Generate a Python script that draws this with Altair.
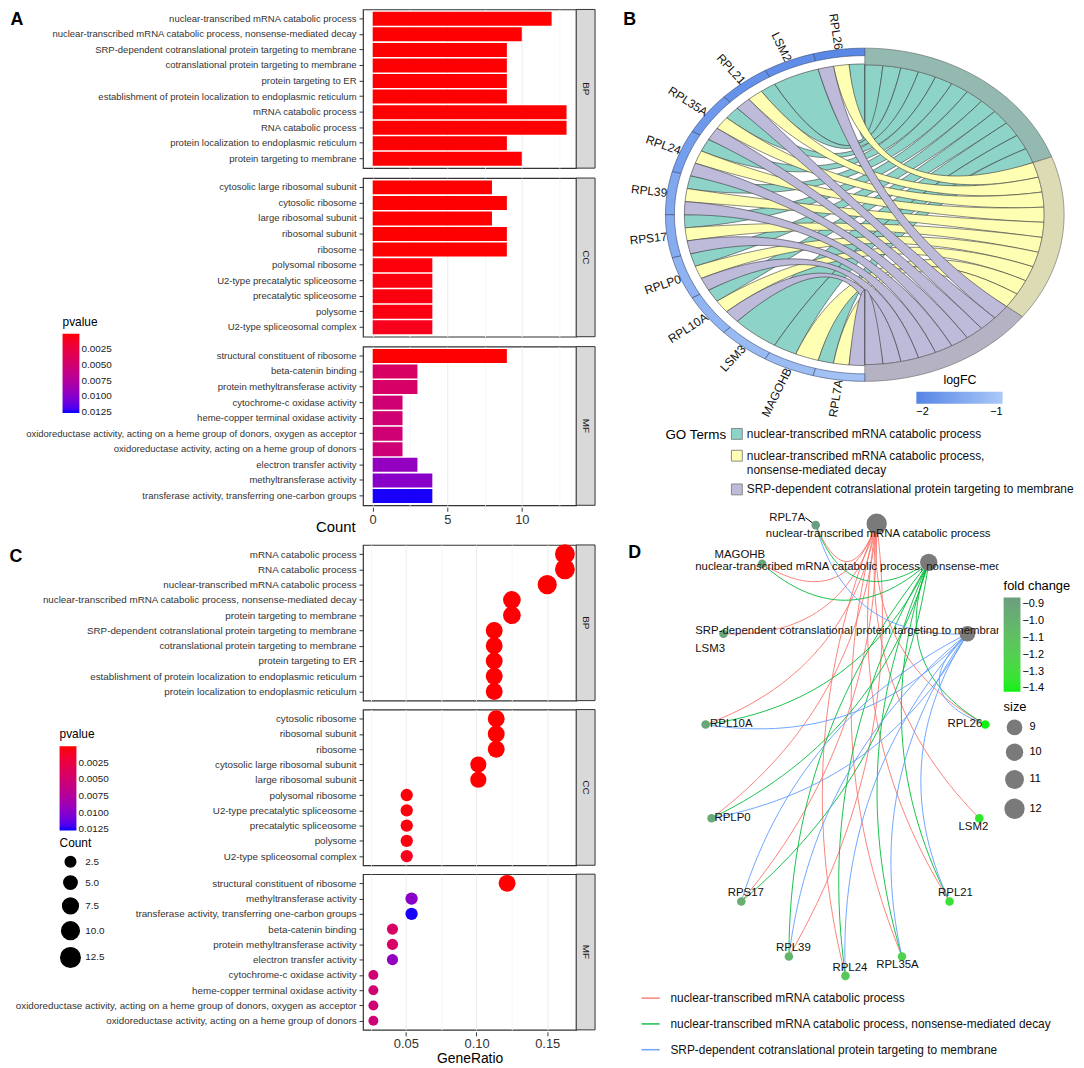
import math
import altair as alt
import pandas as pd

SANS = "Liberation Sans, Arial"

# ------------------------------------------------------------------ data
bp_terms = [
    "nuclear-transcribed mRNA catabolic process",
    "nuclear-transcribed mRNA catabolic process, nonsense-mediated decay",
    "SRP-dependent cotranslational protein targeting to membrane",
    "cotranslational protein targeting to membrane",
    "protein targeting to ER",
    "establishment of protein localization to endoplasmic reticulum",
    "mRNA catabolic process",
    "RNA catabolic process",
    "protein localization to endoplasmic reticulum",
    "protein targeting to membrane",
]
bp_counts = [12, 10, 9, 9, 9, 9, 13, 13, 9, 10]
bp_pvalues = [2e-5, 4e-5, 3e-5, 4e-5, 5e-5, 5e-5, 1e-5, 1e-5, 6e-5, 8e-5]

cc_terms = [
    "cytosolic large ribosomal subunit",
    "cytosolic ribosome",
    "large ribosomal subunit",
    "ribosomal subunit",
    "ribosome",
    "polysomal ribosome",
    "U2-type precatalytic spliceosome",
    "precatalytic spliceosome",
    "polysome",
    "U2-type spliceosomal complex",
]
cc_counts = [8, 9, 8, 9, 9, 4, 4, 4, 4, 4]
cc_pvalues = [1e-5, 1e-5, 2e-5, 2e-5, 3e-5, 2e-4, 3e-4, 3e-4, 4e-4, 7e-4]

mf_terms = [
    "structural constituent of ribosome",
    "beta-catenin binding",
    "protein methyltransferase activity",
    "cytochrome-c oxidase activity",
    "heme-copper terminal oxidase activity",
    "oxidoreductase activity, acting on a heme group of donors, oxygen as acceptor",
    "oxidoreductase activity, acting on a heme group of donors",
    "electron transfer activity",
    "methyltransferase activity",
    "transferase activity, transferring one-carbon groups",
]
mf_counts = [9, 3, 3, 2, 2, 2, 2, 3, 4, 4]
mf_pvalues = [1e-6, 0.0043, 0.0045, 0.0051, 0.0051, 0.0052, 0.0053, 0.0094, 0.0099, 0.0126]

bg_sizes = {"BP": 80, "CC": 79, "MF": 74}

dot_bp_order = [
    "mRNA catabolic process",
    "RNA catabolic process",
    "nuclear-transcribed mRNA catabolic process",
    "nuclear-transcribed mRNA catabolic process, nonsense-mediated decay",
    "protein targeting to membrane",
    "SRP-dependent cotranslational protein targeting to membrane",
    "cotranslational protein targeting to membrane",
    "protein targeting to ER",
    "establishment of protein localization to endoplasmic reticulum",
    "protein localization to endoplasmic reticulum",
]
dot_cc_order = [
    "cytosolic ribosome",
    "ribosomal subunit",
    "ribosome",
    "cytosolic large ribosomal subunit",
    "large ribosomal subunit",
    "polysomal ribosome",
    "U2-type precatalytic spliceosome",
    "precatalytic spliceosome",
    "polysome",
    "U2-type spliceosomal complex",
]
dot_mf_order = [
    "structural constituent of ribosome",
    "methyltransferase activity",
    "transferase activity, transferring one-carbon groups",
    "beta-catenin binding",
    "protein methyltransferase activity",
    "electron transfer activity",
    "cytochrome-c oxidase activity",
    "heme-copper terminal oxidase activity",
    "oxidoreductase activity, acting on a heme group of donors, oxygen as acceptor",
    "oxidoreductase activity, acting on a heme group of donors",
]

go_terms = [
    "nuclear-transcribed mRNA catabolic process",
    "nuclear-transcribed mRNA catabolic process, nonsense-mediated decay",
    "SRP-dependent cotranslational protein targeting to membrane",
]
term_genes = {
    go_terms[0]: ["RPL26", "LSM2", "RPL21", "RPL35A", "RPL24", "RPL39", "RPS17",
                  "RPLP0", "RPL10A", "LSM3", "MAGOHB", "RPL7A"],
    go_terms[1]: ["RPL26", "RPL21", "RPL35A", "RPL24", "RPL39", "RPS17",
                  "RPLP0", "RPL10A", "MAGOHB", "RPL7A"],
    go_terms[2]: ["RPL26", "RPL21", "RPL35A", "RPL24", "RPL39", "RPS17",
                  "RPLP0", "RPL10A", "RPL7A"],
}

chord_genes = ["RPL26", "LSM2", "RPL21", "RPL35A", "RPL24", "RPL39", "RPS17",
               "RPLP0", "RPL10A", "LSM3", "MAGOHB", "RPL7A"]
chord_logfc = [-1.95, -1.88, -1.82, -1.72, -1.62, -1.48, -1.42, -1.33, -1.3, -1.2, -1.17, -1.1]
ribbon_colors = ["#8dd3c7", "#ffffb3", "#bebada"]
ring_colors = ["#93b9b0", "#dcdbb4", "#b4b2c3"]

net_genes = ["RPL7A", "MAGOHB", "LSM3", "RPL10A", "RPL26", "RPLP0", "LSM2",
             "RPS17", "RPL21", "RPL39", "RPL24", "RPL35A"]
net_fc = [-0.86, -0.9, -0.9, -0.92, -1.42, -0.95, -1.36, -0.97, -1.32, -1.02, -1.15, -1.22]
net_gx = [-0.21, -0.57, -0.83, -0.95, 0.93, -0.91, 0.89, -0.71, 0.69, -0.39, -0.01, 0.37]
net_gy = [1.48, 1.22, 0.75, 0.14, 0.14, -0.49, -0.49, -1.05, -1.05, -1.42, -1.55, -1.42]
net_lx = [-0.28, -0.72, -1.02, -0.92, 0.91, -0.89, 0.85, -0.68, 0.73, -0.36, 0.02, 0.34]
net_ly = [1.53, 1.28, 0.65, 0.14, 0.14, -0.49, -0.55, -0.99, -0.99, -1.36, -1.5, -1.48]
net_lalign = ["right", "center", "left", "left", "right", "left", "center",
              "center", "center", "center", "center", "center"]
term_nx = [0.2, 0.55, 0.81]
term_ny = [1.49, 1.23, 0.75]
term_size = [12, 10, 9]
term_lx = [0.21, -1.02, -1.02]
term_ly = [1.42, 1.2, 0.77]
term_lalign = ["center", "left", "left"]
edge_colors = ["#f8766d", "#00ba38", "#619cff"]

# p-values are encoded negated so that the small values sit at the top of the bar
P_SCALE = alt.Scale(domain=[-0.0127, 0], range=["#0000ff", "#ff0000"], interpolate="lab")
P_VALUES = [-0.0125, -0.01, -0.0075, -0.005, -0.0025]


def pvalue_legend(lx, ly, glen):
    return alt.Legend(title="pvalue", orient="none", legendX=lx, legendY=ly,
                      values=P_VALUES, labelExpr="format(-datum.value, '.4f')",
                      gradientLength=glen, gradientThickness=17, titleFontSize=12,
                      labelFontSize=10, titleFont=SANS, labelFont=SANS,
                      labelColor="#222222", titleFontWeight="normal", titlePadding=5)


# ------------------------------------------------------------------ panel A
rows = []
for ont, terms, counts, pv in [("BP", bp_terms, bp_counts, bp_pvalues),
                               ("CC", cc_terms, cc_counts, cc_pvalues),
                               ("MF", mf_terms, mf_counts, mf_pvalues)]:
    for i, (t, c, p) in enumerate(zip(terms, counts, pv)):
        rows.append(dict(ont=ont, term=t, n_genes=c, pvalue=p, order=i))
dfA = pd.DataFrame(rows)
dfA["negp"] = -dfA["pvalue"]
pv_lookup = dict(zip(dfA["term"], dfA["pvalue"]))
cnt_lookup = dict(zip(dfA["term"], dfA["n_genes"]))

A_W, A_H = 215, 160
y_axis_A = alt.Axis(title=None, labelFont=SANS, labelFontSize=9.6, labelColor="#333333",
                    tickColor="#333333", tickSize=4, labelPadding=3, domain=False,
                    labelLimit=500, gridColor="#ebebeb")
x_axis_A = alt.Axis(title="Count", values=[0, 2.5, 5, 7.5, 10, 12.5],
                    labelExpr="datum.value % 5 == 0 ? datum.label : ''",
                    gridColor={"condition": {"test": "datum.value % 5 == 0", "value": "#ebebeb"},
                               "value": "#f6f6f6"},
                    tickOpacity={"condition": {"test": "datum.value % 5 == 0", "value": 1},
                                 "value": 0},
                    tickColor="#333333", tickSize=4, domain=False, labelFontSize=13,
                    labelColor="#333333", titleFontSize=15, titleFontWeight="normal",
                    titleX=-8, titleY=19, titleAlign="right", titleBaseline="middle",
                    titleAngle=0)

bars = alt.Chart().mark_bar().encode(
    y=alt.Y("term:N", sort=alt.SortField("order"), axis=y_axis_A,
            scale=alt.Scale(paddingInner=0.1, paddingOuter=0.15)),
    x=alt.X("n_genes:Q", scale=alt.Scale(domain=[-0.65, 13.65], nice=False, zero=False),
            axis=x_axis_A),
    x2=alt.datum(0),
    color=alt.Color("negp:Q", scale=P_SCALE, legend=pvalue_legend(-303, 310, 80)),
).properties(width=A_W, height=A_H)

stripA = alt.Chart().transform_aggregate(n="count()", groupby=["ont"]).mark_rect(
    fill="#d9d9d9", stroke="#333333", strokeWidth=1).encode(
    x=alt.value(A_W), x2=alt.value(A_W + 19), y=alt.value(0), y2=alt.value(A_H))
strip_textA = alt.Chart().transform_aggregate(n="count()", groupby=["ont"]).mark_text(
    angle=90, fontSize=10, color="#1a1a1a", font=SANS).encode(
    text="ont:N", x=alt.value(A_W + 9.5), y=alt.value(A_H / 2))
letterA = alt.Chart().transform_filter("datum.ont == 'BP'").transform_aggregate(
    n="count()", groupby=["ont"]).mark_text(
    text="A", fontSize=18, fontWeight="bold", font=SANS).encode(
    x=alt.value(-349), y=alt.value(11))

panelA = alt.layer(bars, stripA, strip_textA, letterA, data=dfA).facet(
    row=alt.Row("ont:N", header=alt.Header(labels=False, title=None)), spacing=6
).resolve_scale(y="independent")

# ------------------------------------------------------------------ panel C
rows = []
for ont, order in [("BP", dot_bp_order), ("CC", dot_cc_order), ("MF", dot_mf_order)]:
    for i, t in enumerate(order):
        rows.append(dict(ont=ont, term=t, n_genes=cnt_lookup[t], negp=-pv_lookup[t],
                         ratio=cnt_lookup[t] / bg_sizes[ont], order=i))
dfC = pd.DataFrame(rows)

C_W, C_H = 215, 157
y_axis_C = alt.Axis(title=None, labelFont=SANS, labelFontSize=9.9, labelColor="#333333",
                    tickColor="#333333", tickSize=4, labelPadding=3, domain=False,
                    labelLimit=500, gridColor="#ebebeb")
x_axis_C = alt.Axis(title="GeneRatio", values=[0.025, 0.05, 0.075, 0.1, 0.125, 0.15],
                    format=".2f",
                    labelExpr="round(datum.value * 1000) % 50 == 0 ? datum.label : ''",
                    gridColor={"condition": {"test": "round(datum.value * 1000) % 50 == 0",
                                             "value": "#ebebeb"}, "value": "#f6f6f6"},
                    tickOpacity={"condition": {"test": "round(datum.value * 1000) % 50 == 0",
                                               "value": 1}, "value": 0},
                    tickColor="#333333", tickSize=4, domain=False, labelFontSize=13,
                    labelColor="#333333", titleFontSize=14, titleFontWeight="normal",
                    titlePadding=1, labelPadding=2)

dots = alt.Chart().mark_circle(opacity=1).encode(
    y=alt.Y("term:N", sort=alt.SortField("order"), axis=y_axis_C,
            scale=alt.Scale(padding=0.6)),
    x=alt.X("ratio:Q", scale=alt.Scale(domain=[0.0197, 0.1705], nice=False, zero=False),
            axis=x_axis_C),
    color=alt.Color("negp:Q", scale=P_SCALE, legend=pvalue_legend(-306, 186, 85)),
    size=alt.Size("n_genes:Q", scale=alt.Scale(domain=[2, 13], range=[100, 400]),
                  legend=alt.Legend(title="Count", orient="none", legendX=-306, legendY=296,
                                    values=[2.5, 5, 7.5, 10, 12.5], format=".1f",
                                    symbolFillColor="black", symbolStrokeColor="black",
                                    symbolType="circle", symbolOpacity=1,
                                    titleFontSize=12, labelFontSize=10, titleFont=SANS,
                                    labelFont=SANS, labelColor="#222222",
                                    titleFontWeight="normal")),
).properties(width=C_W, height=C_H)

stripC = alt.Chart().transform_aggregate(n="count()", groupby=["ont"]).mark_rect(
    fill="#d9d9d9", stroke="#333333", strokeWidth=1).encode(
    x=alt.value(C_W), x2=alt.value(C_W + 19), y=alt.value(0), y2=alt.value(C_H))
strip_textC = alt.Chart().transform_aggregate(n="count()", groupby=["ont"]).mark_text(
    angle=90, fontSize=10, color="#1a1a1a", font=SANS).encode(
    text="ont:N", x=alt.value(C_W + 9.5), y=alt.value(C_H / 2))
letterC = alt.Chart().transform_filter("datum.ont == 'BP'").transform_aggregate(
    n="count()", groupby=["ont"]).mark_text(
    text="C", fontSize=18, fontWeight="bold", font=SANS).encode(
    x=alt.value(-350), y=alt.value(12))

panelC = alt.layer(dots, stripC, strip_textC, letterC, data=dfC).facet(
    row=alt.Row("ont:N", header=alt.Header(labels=False, title=None)), spacing=5
).resolve_scale(y="independent")

# ------------------------------------------------------------------ panel B (chord)
B_W, B_H = 448, 498
CX, CY, RX, RY = 246, 207, 201, 168
R_GENE_IN, R_RIB_L, R_RIB_R, R_LAB = 0.955, 0.905, 0.90, 1.0


def pt(angle_deg, r):
    a = math.radians(angle_deg)
    return [round(CX + RX * r * math.cos(a), 2), round(CY - RY * r * math.sin(a), 2)]


def arc(a0, a1, r, n=12):
    return [pt(a0 + (a1 - a0) * k / n, r) for k in range(n + 1)]


def bez(p0, p2, n=28):
    out = []
    for k in range(1, n):
        t = k / n
        out.append([round((1 - t) ** 2 * p0[0] + 2 * (1 - t) * t * CX + t * t * p2[0], 2),
                    round((1 - t) ** 2 * p0[1] + 2 * (1 - t) * t * CY + t * t * p2[1], 2)])
    return out


def feature(ring, **props):
    ring = ring + [ring[0]]
    return {"type": "Feature", "geometry": {"type": "Polygon", "coordinates": [ring]},
            "properties": props}


n_rib = sum(len(v) for v in term_genes.values())
unit = 180.0 / n_rib
term_start = []
acc = 90.0
for t in go_terms:
    term_start.append(acc)
    acc -= unit * len(term_genes[t])

gene_step = 180.0 / len(chord_genes)
ribbons, gene_ring = [], []
ribbon_by_term = {t: [] for t in go_terms}
for i, g in enumerate(chord_genes):
    g0 = 90 + gene_step * i
    g1 = g0 + gene_step
    gene_ring.append(feature(arc(g0, g1, 1.0) + arc(g1, g0, R_GENE_IN),
                             gene=g, logFC=chord_logfc[i]))
    mine = [k for k, t in enumerate(go_terms) if g in term_genes[t]]
    w = gene_step / len(mine)
    for j, k in enumerate(mine):
        a1, a2 = g0 + j * w, g0 + (j + 1) * w
        m = term_genes[go_terms[k]].index(g)
        t1 = term_start[k] - m * unit
        t0 = t1 - unit
        ring = (arc(a1, a2, R_RIB_L, 6) + bez(pt(a2, R_RIB_L), pt(t0, R_RIB_R))
                + arc(t0, t1, R_RIB_R, 4) + bez(pt(t1, R_RIB_R), pt(a1, R_RIB_L)))
        ribbon_by_term[go_terms[k]].append(feature(ring, term=go_terms[k], gene=g))
for t in go_terms:
    ribbons.extend(ribbon_by_term[t])

term_ring = []
for k, t in enumerate(go_terms):
    s = term_start[k]
    e = s - unit * len(term_genes[t])
    term_ring.append(feature(arc(s, e, 1.0, 40) + arc(e, s, R_RIB_R, 40), term=t))

lab_rows = []
for i, g in enumerate(chord_genes):
    gm = 90 + gene_step * (i + 0.5)
    x, y = pt(gm, R_LAB)
    ang = math.degrees(math.atan2(CY - y, CX - x)) % 360
    lab_rows.append(dict(gene=g, x=x, y=y, ang=round(ang, 1)))
dfBlab = pd.DataFrame(lab_rows)

PROJ = dict(type="identity", scale=1, translate=[0, 0])

b_rib = alt.Chart(alt.Data(values=ribbons)).mark_geoshape(
    stroke="#3a3a3a", strokeWidth=0.6).encode(
    color=alt.Color("properties.term:N", scale=alt.Scale(domain=go_terms, range=ribbon_colors),
                    legend=alt.Legend(
                        title="GO Terms", orient="none", legendX=45, legendY=422,
                        titleOrient="left", titleAnchor="start", symbolType="square",
                        symbolSize=120, symbolStrokeColor="#888888", symbolStrokeWidth=1,
                        labelFontSize=12, titleFontSize=13.5, titleFont=SANS,
                        labelFont=SANS, titleFontWeight="normal", labelLimit=600,
                        titlePadding=4, rowPadding=6, labelColor="#111111",
                        labelExpr=("datum.label == '" + go_terms[1] + "' ? "
                                   "['nuclear-transcribed mRNA catabolic process,', "
                                   "'nonsense-mediated decay'] : datum.label")))
).project(**PROJ)
b_tring = alt.Chart(alt.Data(values=term_ring)).mark_geoshape(
    stroke="#666666", strokeWidth=0.6).encode(
    color=alt.Color("properties.term:N", scale=alt.Scale(domain=go_terms, range=ring_colors),
                    legend=None)
).project(**PROJ)
b_gring = alt.Chart(alt.Data(values=gene_ring)).mark_geoshape(
    stroke="#3a4a70", strokeWidth=0.6).encode(
    color=alt.Color("properties.logFC:Q",
                    scale=alt.Scale(domain=[-2, -1], range=["#5585e5", "#abc8f7"]),
                    legend=alt.Legend(title="logFC", orient="none", direction="horizontal",
                                      legendX=298, legendY=368, values=[-2, -1], format="d",
                                      gradientLength=87, gradientThickness=12,
                                      titleAnchor="middle", titleFontSize=12.5,
                                      labelFontSize=11, titleFont=SANS, labelFont=SANS,
                                      titleFontWeight="normal"))
).project(**PROJ)
b_lab = alt.Chart(dfBlab).mark_text(align="right", baseline="middle", fontSize=12,
                                    font=SANS, color="#111111").encode(
    longitude="x:Q", latitude="y:Q", angle=alt.Angle("ang:Q", scale=None), text="gene:N"
).project(**PROJ)
b_letter = alt.Chart(pd.DataFrame({"t": ["B"]})).mark_text(
    fontSize=18, fontWeight="bold", font=SANS).encode(
    text="t:N", x=alt.value(9), y=alt.value(11))

panelB = alt.layer(b_rib, b_tring, b_gring, b_lab, b_letter).resolve_scale(
    color="independent").properties(width=B_W, height=B_H,
                                    view=alt.ViewBackground(stroke="transparent"))

# ------------------------------------------------------------------ panel D (network)
D_W, D_H = 381, 485
xs = alt.Scale(domain=[-1.52, 1.02], nice=False, zero=False)
ys = alt.Scale(domain=[-1.633, 1.6], nice=False, zero=False)
gpos = {g: (x, y) for g, x, y in zip(net_genes, net_gx, net_gy)}

edge_rows = []
eid = 0
for k, t in enumerate(go_terms):
    x0, y0 = term_nx[k], term_ny[k]
    for g in term_genes[t]:
        x2, y2 = gpos[g]
        mx, my = (x0 + x2) / 2, (y0 + y2) / 2
        dx, dy = x2 - x0, y2 - y0
        L = math.hypot(dx, dy)
        nx, ny = -dy / L, dx / L
        if (0 - mx) * nx + (0 - my) * ny < 0:
            nx, ny = -nx, -ny
        cx, cy = mx + 0.5 * nx, my + 0.5 * ny
        for s in range(31):
            tt = s / 30
            edge_rows.append(dict(
                eid=eid, term=t, t=s,
                x=(1 - tt) ** 2 * x0 + 2 * (1 - tt) * tt * cx + tt * tt * x2,
                y=(1 - tt) ** 2 * y0 + 2 * (1 - tt) * tt * cy + tt * tt * y2))
        eid += 1
dfE = pd.DataFrame(edge_rows)
dfG = pd.DataFrame(dict(gene=net_genes, fc=net_fc, x=net_gx, y=net_gy,
                        lx=net_lx, ly=net_ly, al=net_lalign))
dfT = pd.DataFrame(dict(term=go_terms, size=term_size, x=term_nx, y=term_ny,
                        lx=term_lx, ly=term_ly, al=term_lalign))
dfLab = pd.concat([dfG[["gene", "lx", "ly", "al"]].rename(columns={"gene": "label"}),
                   dfT[["term", "lx", "ly", "al"]].rename(columns={"term": "label"})])


def X(f):
    return alt.X(f, scale=xs, axis=None)


def Y(f):
    return alt.Y(f, scale=ys, axis=None)


d_edges = alt.Chart(dfE).mark_line(strokeWidth=1, opacity=0.9).encode(
    x=X("x:Q"), y=Y("y:Q"), detail="eid:N", order="t:Q",
    color=alt.Color("term:N", scale=alt.Scale(domain=go_terms, range=edge_colors),
                    legend=alt.Legend(title=None, orient="none", legendX=20, legendY=485,
                                      symbolType="stroke", symbolStrokeWidth=1.5,
                                      symbolSize=330, labelFontSize=12, labelFont=SANS,
                                      labelLimit=600, rowPadding=10, labelOffset=10,
                                      labelColor="#111111")))
d_seg = alt.Chart(dfG.iloc[[0]]).mark_rule(color="black", strokeWidth=1).encode(
    x=X("lx:Q"), y=Y("ly:Q"), x2="x:Q", y2="y:Q")
d_genes = alt.Chart(dfG).mark_circle(size=75, opacity=1).encode(
    x=X("x:Q"), y=Y("y:Q"),
    fill=alt.Fill("fc:Q", scale=alt.Scale(domain=[-1.42, -0.86], range=["#10f010", "#6b9e7f"],
                                         interpolate="lab"),
                  legend=alt.Legend(title="fold change", orient="none", legendX=386, legendY=73,
                                    values=[-0.9, -1.0, -1.1, -1.2, -1.3, -1.4], format=".1f",
                                    gradientLength=95, gradientThickness=17,
                                    titleFontSize=13, labelFontSize=11, titleFont=SANS,
                                    labelFont=SANS, titleFontWeight="normal")))
d_terms = alt.Chart(dfT).mark_circle(color="#7a7a7a", opacity=1).encode(
    x=X("x:Q"), y=Y("y:Q"),
    size=alt.Size("size:Q", scale=alt.Scale(domain=[9, 12], range=[250, 420]),
                  legend=alt.Legend(title="size", orient="none", legendX=386, legendY=195,
                                    values=[9, 10, 11, 12], format="d",
                                    symbolFillColor="black",
                                    symbolStrokeColor="black", symbolOpacity=1,
                                    titleFontSize=13, labelFontSize=11, titleFont=SANS,
                                    labelFont=SANS, titleFontWeight="normal")))
d_text = []
for al in ["left", "center", "right"]:
    d_text.append(alt.Chart(dfLab).transform_filter(f"datum.al == '{al}'").mark_text(
        align=al, baseline="middle", fontSize=11.5, font=SANS, color="#111111",
        clip=True).encode(x=X("lx:Q"), y=Y("ly:Q"), text="label:N"))
d_letter = alt.Chart(pd.DataFrame({"t": ["D"]})).mark_text(
    fontSize=18, fontWeight="bold", font=SANS).encode(
    text="t:N", x=alt.value(14), y=alt.value(46))

panelD = alt.layer(d_edges, d_seg, d_genes, d_terms, *d_text, d_letter).properties(
    width=D_W, height=D_H, view=alt.ViewBackground(stroke="transparent"))

# ------------------------------------------------------------------ assemble
left = alt.vconcat(panelA, panelC, spacing=9).resolve_scale(
    color="independent", size="independent")
right = alt.vconcat(panelB, panelD, spacing=2).resolve_scale(
    color="independent", size="independent", fill="independent")

chart = alt.hconcat(left, right, spacing=23).resolve_scale(
    color="independent", size="independent", fill="independent"
).properties(
    padding={"left": 0, "top": -5, "right": 0, "bottom": 0}
).configure_view(stroke="#333333", strokeWidth=1.2).configure_axis(
    labelFont=SANS, titleFont=SANS
).configure_legend(titleFontWeight="normal")

chart.save("out.html", embed_options={"renderer": "svg", "actions": False})
